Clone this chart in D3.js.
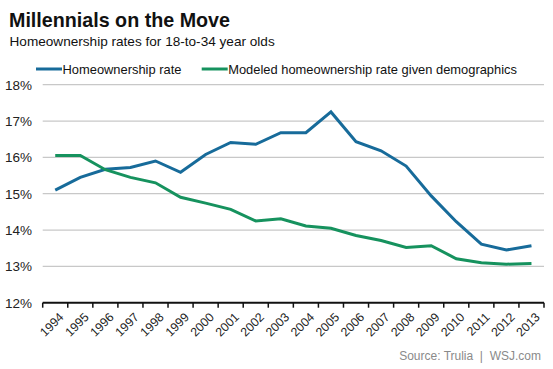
<!DOCTYPE html>
<html><head><meta charset="utf-8">
<script src="https://cdn.jsdelivr.net/npm/d3@7"></script>
<style>
body{margin:0;background:#fff;}
text{font-family:"Liberation Sans",Arial,sans-serif;}
</style></head>
<body>
<svg id="c" width="553" height="369"></svg>
<script>
const years = ["1994","1995","1996","1997","1998","1999","2000","2001","2002","2003","2004","2005","2006","2007","2008","2009","2010","2011","2012","2013"];
const homeownership = [15.10,15.45,15.67,15.72,15.90,15.59,16.08,16.41,16.36,16.68,16.68,17.25,16.43,16.18,15.76,14.94,14.23,13.61,13.45,13.57];
const modeled = [16.05,16.05,15.66,15.45,15.30,14.90,14.74,14.57,14.25,14.31,14.11,14.05,13.85,13.71,13.52,13.57,13.21,13.10,13.06,13.08];
const yTicks = [12,13,14,15,16,17,18];
const seriesNames = ["Homeownership rate","Modeled homeownership rate given demographics"];
const colors = ["#176b9a","#16925e"];

(function(){
const svg = d3.select("#c");
const mLeft = 42.7, mRight = 544, mTop = 84.7, mBottom = 302.7;
const x = d3.scaleBand().domain(years).range([mLeft, mRight]);
const y = d3.scaleLinear().domain([12,18]).range([mBottom, mTop]);

svg.append("text").attr("x",9).attr("y",27).attr("font-size","19.7px").attr("font-weight","bold").attr("fill","#111").text("Millennials on the Move");
svg.append("text").attr("x",9.5).attr("y",46).attr("font-size","13.6px").attr("fill","#111").text("Homeownership rates for 18-to-34 year olds");

const legX = [36, 201.7];
seriesNames.forEach((n,i)=>{
  svg.append("line").attr("x1",legX[i]).attr("x2",legX[i]+26).attr("y1",69).attr("y2",69).attr("stroke",colors[i]).attr("stroke-width",3);
  svg.append("text").attr("x",legX[i]+26.5).attr("y",74).attr("font-size","12.9px").attr("fill","#111").text(n);
});

svg.append("g").selectAll("line").data(yTicks.filter(d=>d>12)).join("line")
  .attr("x1",mLeft).attr("x2",mRight).attr("y1",d=>y(d)).attr("y2",d=>y(d))
  .attr("stroke","#c8c8c8").attr("stroke-width",1.3);

svg.append("g").selectAll("text").data(yTicks).join("text")
  .attr("x",32).attr("y",d=>y(d)+4.8).attr("text-anchor","end").attr("font-size","13.5px").attr("fill","#222")
  .text(d=>d+"%");

const xAxis = svg.append("g").attr("transform",`translate(0,${mBottom})`);
xAxis.append("line").attr("x1",mLeft).attr("x2",mRight).attr("stroke","#111").attr("stroke-width",2);
const tickPos = years.map(d=>x(d)).concat([mRight]);
xAxis.selectAll("line.t").data(tickPos).join("line").attr("class","t")
  .attr("x1",d=>d).attr("x2",d=>d).attr("y1",0).attr("y2",5).attr("stroke","#111").attr("stroke-width",1.5);
xAxis.selectAll("text").data(years).join("text")
  .attr("transform",d=>`translate(${x(d)+x.bandwidth()/2+3},${9}) rotate(-45)`)
  .attr("text-anchor","end").attr("dy","0.71em").attr("font-size","12.3px").attr("fill","#222").text(d=>d);

const line = d3.line().x((d,i)=>x(years[i])+x.bandwidth()/2).y(d=>y(d));
[homeownership, modeled].forEach((s,i)=>{
  svg.append("path").datum(s).attr("d",line).attr("fill","none").attr("stroke",colors[i])
    .attr("stroke-width",3).attr("stroke-linejoin","miter").attr("stroke-linecap","butt");
});

svg.append("text").attr("x",541).attr("y",360).attr("text-anchor","end").attr("font-size","12px").attr("fill","#8a8a8a")
  .text("Source: Trulia\u00a0\u00a0|\u00a0\u00a0WSJ.com");
})();
</script>
</body></html>
